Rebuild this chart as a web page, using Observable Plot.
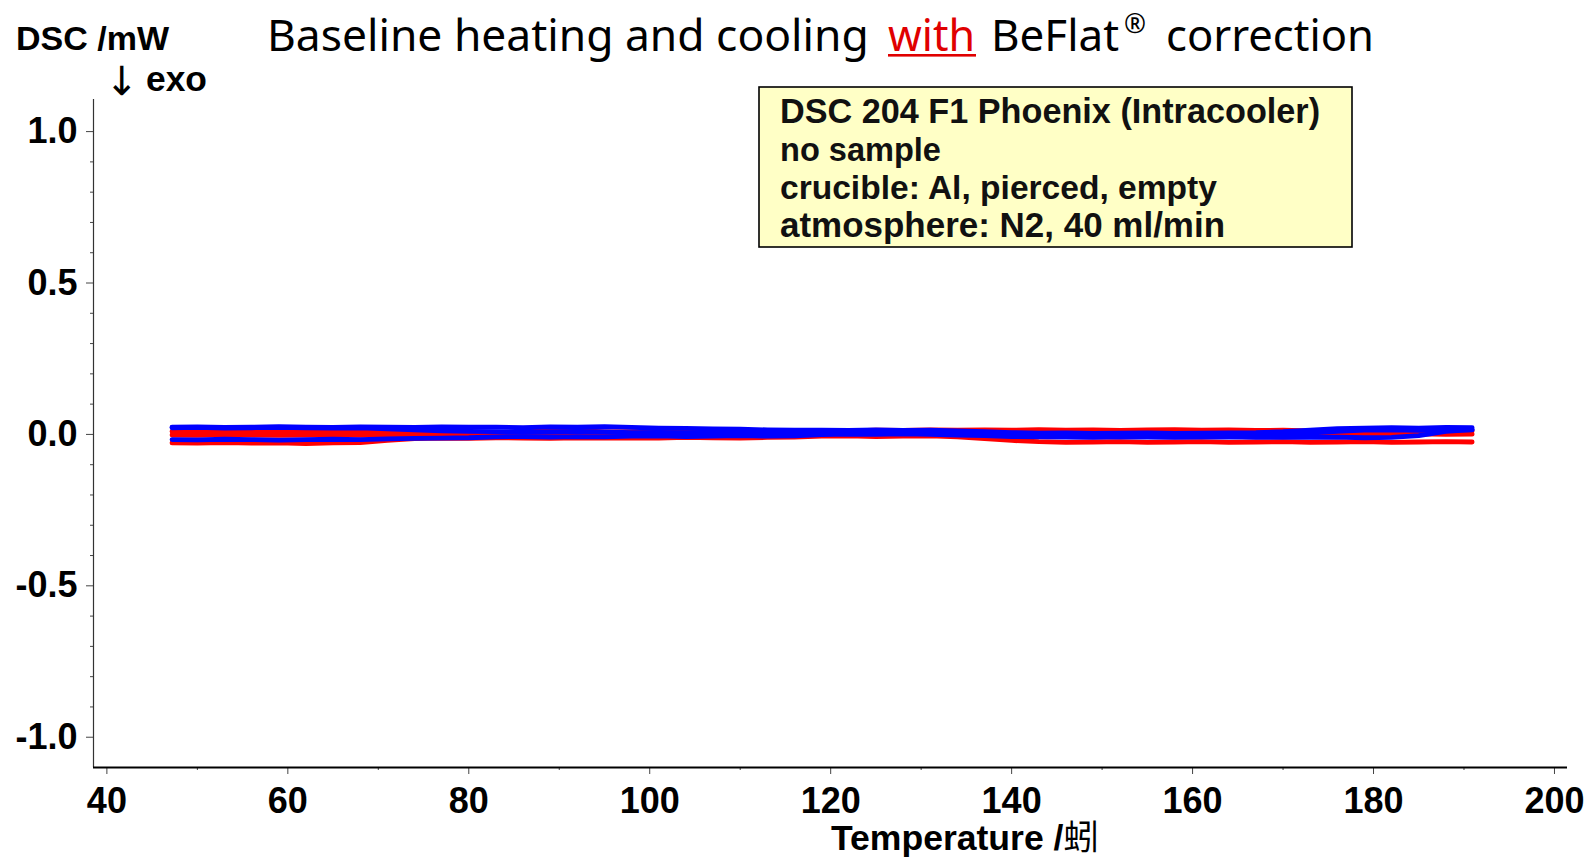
<!DOCTYPE html>
<html><head><meta charset="utf-8">
<script src="https://cdn.jsdelivr.net/npm/d3@7"></script>
<script src="https://cdn.jsdelivr.net/npm/@observablehq/plot@0.6"></script>
<style>
html,body{margin:0;padding:0;background:#fff;overflow:hidden}
#wrap{position:relative;width:1589px;height:859px}
#wrap > svg{position:absolute;left:0;top:0}
</style></head><body><div id="wrap"></div>
<script>
// ---- data ----
const temperature = [47.2,50,53,56,59,62,65,68,71,74,77,80,83,86,89,92,95,98,101,104,107,110,113,116,119,122,125,128,131,134,137,140,143,146,149,152,155,158,161,164,167,170,173,176,179,182,185,188,190.9];

const coolingUpper = [0.024,0.025,0.023,0.024,0.026,0.024,0.023,0.025,0.024,0.023,0.025,0.024,0.024,0.022,0.025,0.024,0.026,
  0.023,0.021,0.020,0.018,0.017,0.015,0.014,0.014,0.013,0.015,0.013,0.014,0.012,0.009,
  0.006,0.004,0.005,0.003,0.004,0.005,0.003,0.004,0.005,0.006,0.009,0.014,0.019,0.021,0.022,0.021,0.023,0.022];
const coolingMiddle = [0.022,0.023,0.021,0.022,0.023,0.022,0.021,0.022,
  0.018,0.015,0.012,0.010,
  0.009,0.007,0.008,0.010,0.008,
  0.006,0.007,0.005,0.006,0.007,0.005,0.006,
  0.007,0.008,0.006,0.008,0.007,0.006,
  0.004,
  -0.002,-0.001,-0.003,-0.002,-0.001,-0.003,-0.002,-0.001,-0.002,-0.003,-0.001,
  0.004,0.010,
  0.014,0.015,0.013,0.014,0.015];
const coolingLower = [-0.017,-0.018,-0.016,-0.017,-0.019,-0.017,-0.016,-0.017,
  -0.015,-0.013,-0.012,-0.011,
  -0.008,-0.007,-0.009,-0.007,-0.008,
  -0.006,-0.005,-0.007,-0.006,-0.004,-0.006,-0.005,
  -0.001,0.001,0.000,0.002,0.000,-0.002,
  -0.004,-0.007,
  -0.008,-0.009,-0.010,-0.008,-0.009,-0.010,-0.009,-0.008,-0.010,-0.009,-0.010,-0.009,-0.011,-0.010,
  -0.004,0.010,0.016];
const heatingUpper = [0.010,0.009,0.008,0.010,0.009,0.008,0.010,0.009,
  0.007,0.006,0.005,0.007,0.006,0.009,0.014,0.013,0.008,
  0.009,0.010,0.008,0.009,0.010,0.011,0.012,
  0.013,0.012,0.014,0.013,0.015,0.014,
  0.015,0.014,0.016,0.014,0.015,0.013,0.015,0.016,0.014,0.015,0.013,0.014,
  0.012,0.011,0.010,0.012,0.011,0.010,0.011];
const heatingMiddle = [-0.002,-0.003,-0.001,-0.002,-0.003,-0.002,-0.001,-0.003,
  -0.001,0.000,-0.002,-0.001,0.000,-0.002,-0.001,0.000,-0.001,
  -0.001,-0.002,0.000,-0.001,-0.002,-0.001,0.000,
  0.002,0.003,0.001,0.003,0.002,0.001,
  0.002,0.001,0.003,0.002,0.001,0.003,0.002,0.001,0.002,0.003,0.002,0.001,
  0.001,0.002,0.000,0.001,0.002,0.000,0.001];
const heatingLower = [-0.028,-0.029,-0.027,-0.029,-0.028,-0.030,-0.028,-0.027,
  -0.020,-0.014,
  -0.012,-0.013,-0.011,-0.012,-0.013,-0.011,-0.012,
  -0.011,-0.012,-0.010,-0.011,-0.012,-0.010,-0.009,
  -0.006,-0.005,-0.007,-0.006,-0.005,-0.008,
  -0.014,-0.020,
  -0.024,-0.026,-0.025,-0.024,-0.026,-0.025,-0.024,-0.026,-0.025,-0.024,-0.026,-0.025,-0.024,-0.026,-0.025,-0.024,-0.025];

const xMajorTicks = [40,60,80,100,120,140,160,180,200];
const xMinorTicks = [50,70,90,110,130,150,170,190];
const yMajorTicks = [-1.0,-0.5,0.0,0.5,1.0];
const yMinorTicks = [-0.9,-0.8,-0.7,-0.6,-0.4,-0.3,-0.2,-0.1,0.1,0.2,0.3,0.4,0.6,0.7,0.8,0.9];

const titleParts = ["Baseline heating and cooling", "with", "BeFlat", "®", "correction"];
const yLabel = "DSC /mW";
const yLabelArrow = "↓";
const yLabelSub = "exo";
const xLabel = "Temperature /";
const xLabelUnit = "蚓";
const boxLines = ["DSC 204 F1 Phoenix (Intracooler)", "no sample", "crucible: Al, pierced, empty", "atmosphere: N2, 40 ml/min"];

// ---- build ----
const rows = (vals) => temperature.map((t, i) => ({t, v: vals[i]}));
const RED = "#ff0000", BLUE = "#0000ff";
const X0 = 38.52, X1 = 201.44, Y0 = -1.1, Y1 = 1.106;
const lineOpts = (color) => ({x: "t", y: "v", stroke: color, strokeWidth: 4.8, strokeLinejoin: "round", strokeLinecap: "round"});

const chart = Plot.plot({
  width: 1589, height: 859,
  marginLeft: 93, marginRight: 22, marginTop: 99, marginBottom: 92,
  x: {domain: [X0, X1]},
  y: {domain: [Y0, Y1]},
  style: {fontFamily: "'Liberation Sans', Arial, sans-serif", background: "white", color: "black"},
  marks: [
    Plot.axisX({ticks: xMajorTicks, tickSize: 7, tickPadding: 13, fontSize: 36, fontWeight: "bold", stroke: "#444", fill: "black", label: null, tickFormat: d => String(d)}),
    Plot.axisX({ticks: xMinorTicks, tickSize: 3, stroke: "#444", fill: "none", label: null}),
    Plot.axisY({ticks: yMajorTicks, tickSize: 7, tickPadding: 9, fontSize: 36, fontWeight: "bold", stroke: "#444", fill: "black", label: null, tickFormat: d => d.toFixed(1)}),
    Plot.axisY({ticks: yMinorTicks, tickSize: 3, stroke: "#444", fill: "none", label: null}),
    Plot.line(rows(heatingLower), lineOpts(RED)),
    Plot.line(rows(heatingMiddle), lineOpts(RED)),
    Plot.line(rows(heatingUpper), lineOpts(RED)),
    Plot.line(rows(coolingMiddle), lineOpts(BLUE)),
    Plot.line(rows(coolingUpper), lineOpts(BLUE)),
    Plot.line(rows(coolingLower), lineOpts(BLUE)),
    Plot.ruleX([X0], {stroke: "#333", strokeWidth: 1.2}),
    Plot.ruleY([Y0], {stroke: "black", strokeWidth: 1.8})
  ]
});
const wrap = document.getElementById("wrap");
wrap.appendChild(chart);

// ---- annotations overlay ----
const ov = d3.select(wrap).append("svg").attr("width", 1589).attr("height", 859)
  .style("pointer-events", "none");

// choose the font size so the natural width matches the target width
function fit(sel, target, size) {
  sel.attr("font-size", size);
  const w = sel.node().getComputedTextLength();
  if (w > 0) sel.attr("font-size", (size * target / w).toFixed(2));
  return sel;
}

const TF = "'Noto Sans', 'Open Sans', sans-serif";
const titleSpec = [
  {x: 267, y: 51, w: 602, size: 49, fill: "black"},
  {x: 888, y: 51, w: 87, size: 49, fill: "#e00000"},
  {x: 991, y: 51, w: 128, size: 49, fill: "black"},
  {x: 1124, y: 33, w: 22, size: 28, fill: "black"},
  {x: 1166, y: 51, w: 208, size: 49, fill: "black"}
];
titleParts.forEach((s, i) => {
  const p = titleSpec[i];
  const t = ov.append("text").attr("x", p.x).attr("y", p.y).attr("font-family", TF)
    .attr("fill", p.fill).text(s);
  fit(t, p.w, p.size);
});
ov.append("rect").attr("x", 888).attr("y", 54).attr("width", 88).attr("height", 2.6).attr("fill", "#e00000");

fit(ov.append("text").attr("x", 16).attr("y", 50)
  .attr("font-family", "'Liberation Sans', Arial, sans-serif").attr("font-weight", "bold").text(yLabel), 153, 35);
ov.append("text").attr("x", 105).attr("y", 95)
  .attr("font-family", "'DejaVu Sans', sans-serif").attr("font-size", 40).text(yLabelArrow);
fit(ov.append("text").attr("x", 146).attr("y", 91)
  .attr("font-family", "'Liberation Sans', Arial, sans-serif").attr("font-weight", "bold").text(yLabelSub), 61, 36);

const xl = ov.append("text").attr("x", 831).attr("y", 850)
  .attr("font-family", "'Liberation Sans', Arial, sans-serif").attr("font-weight", "bold");
xl.append("tspan").text(xLabel);
xl.append("tspan").attr("font-family", "'Noto Sans CJK SC', sans-serif").attr("font-weight", "normal").text(xLabelUnit);
fit(xl, 268, 35);

ov.append("rect").attr("x", 759).attr("y", 87).attr("width", 593).attr("height", 160)
  .attr("fill", "#ffffc6").attr("stroke", "black").attr("stroke-width", 1.6);
const boxWidths = [540, 161, 437, 445];
boxLines.forEach((s, i) => {
  const t = ov.append("text").attr("x", 780).attr("y", 123 + i * 38)
    .attr("font-family", "'Liberation Sans', Arial, sans-serif").attr("font-weight", "bold")
    .attr("fill", "#111").text(s);
  fit(t, boxWidths[i], 33);
});
</script></body></html>
